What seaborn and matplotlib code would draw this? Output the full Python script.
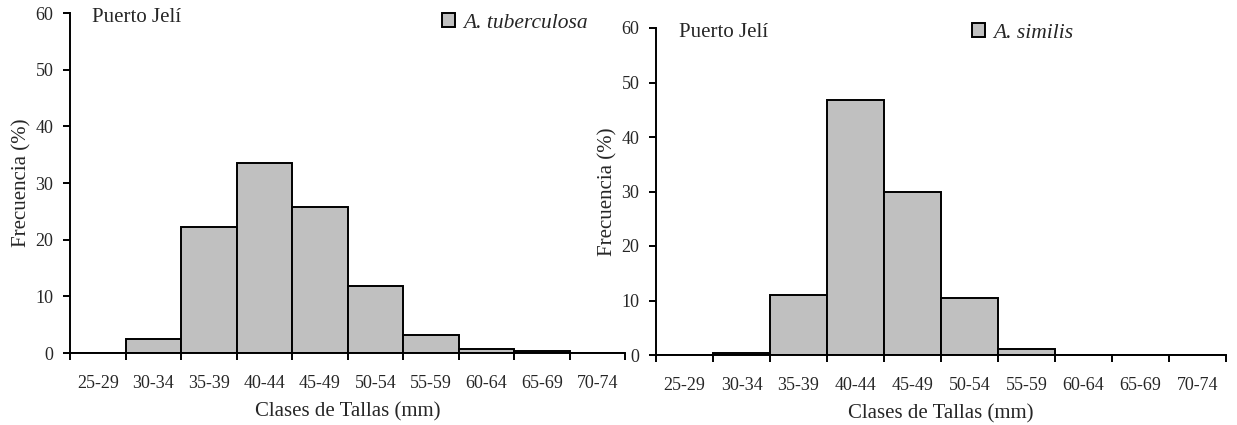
import matplotlib
matplotlib.use("Agg")
import matplotlib.pyplot as plt
import seaborn as sns
import pandas as pd
from matplotlib.patches import Patch

# ---- data ----
classes = ["25-29", "30-34", "35-39", "40-44", "45-49",
           "50-54", "55-59", "60-64", "65-69", "70-74"]
tuberculosa = [0.0, 2.4, 22.2, 33.5, 25.7, 11.9, 3.2, 0.65, 0.35, 0.0]
similis = [0.0, 0.4, 11.0, 46.8, 30.0, 10.4, 1.1, 0.0, 0.0, 0.0]
site = "Puerto Jelí"
species = ["A. tuberculosa", "A. similis"]
yticks = [0, 10, 20, 30, 40, 50, 60]

sns.set_style("ticks")
plt.rcParams['font.family'] = ['Liberation Serif', 'DejaVu Serif']

fig = plt.figure(figsize=(12.37, 4.25), dpi=100)
W, H = 1237, 425
ax1 = fig.add_axes([70 / W, 1 - 353 / H, 555 / W, 340 / H])
ax2 = fig.add_axes([656 / W, 1 - 355 / H, 570 / W, 327 / H])

fill = "#C0C0C0"
lw = 1.4
legend_pos = [(442 / W, 1 - 23 / H), (972 / W, 1 - 33 / H)]
for ax, vals, sp, lpos in [(ax1, tuberculosa, species[0], legend_pos[0]),
                           (ax2, similis, species[1], legend_pos[1])]:
    df = pd.DataFrame({"clase": classes, "freq": vals})
    sns.barplot(data=df, x="clase", y="freq", ax=ax, width=1.0,
                color=fill, edgecolor="black", linewidth=lw,
                saturation=1, errorbar=None)
    ax.set_xlim(-0.5, len(classes) - 0.5)
    ax.set_ylim(0, 60)
    ax.set_yticks(yticks)
    ax.set_yticklabels([str(t) for t in yticks], fontsize=13)
    ax.set_xticks([i - 0.5 for i in range(len(classes) + 1)])
    ax.set_xticklabels([])
    ax.set_xticks(list(range(len(classes))), minor=True)
    ax.set_xticklabels(classes, minor=True, fontsize=13)
    ax.tick_params(axis="x", which="minor", length=0, pad=16)
    ax.tick_params(axis="x", which="major", length=5, width=lw,
                   direction="out", color="black")
    ax.tick_params(axis="y", length=5, width=lw, direction="out",
                   color="black", pad=7)
    for s in ["top", "right"]:
        ax.spines[s].set_visible(False)
    for s in ["left", "bottom"]:
        ax.spines[s].set_linewidth(lw)
        ax.spines[s].set_color("black")
    ax.set_xlabel("Clases de Tallas (mm)", fontsize=15, labelpad=7)
    ax.set_ylabel("Frecuencia (%)", fontsize=15, labelpad=3)
    ax.annotate(site, xy=(0.04, 1.0), xycoords="axes fraction",
                xytext=(0, -3.5), textcoords="offset points",
                fontsize=15, va="center", ha="left")
    handle = Patch(facecolor=fill, edgecolor="black", linewidth=lw)
    ax.legend([handle], [sp], loc="center left", frameon=False,
              prop={"style": "italic", "size": 15.5},
              handlelength=0.6, handleheight=0.6,
              handletextpad=0.4, borderaxespad=0.0, borderpad=0.0,
              bbox_to_anchor=lpos, bbox_transform=fig.transFigure)

fig.savefig("out.png", dpi=100)
